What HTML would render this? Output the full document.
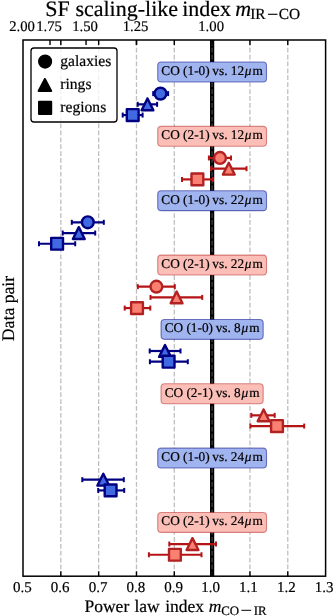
<!DOCTYPE html><html><head><meta charset="utf-8"><style>html,body{margin:0;padding:0;background:#fff;}svg{display:block;will-change:transform;}text{font-family:"Liberation Serif",serif;text-rendering:geometricPrecision;stroke:#000;stroke-width:0.2px;}</style></head><body>
<svg width="333" height="616" viewBox="0 0 333 616">
<rect x="0" y="0" width="333" height="616" fill="#fff"/>
<line x1="212.12" y1="40.0" x2="212.12" y2="576.2" stroke="#000" stroke-width="4.2"/>
<line x1="60.82" y1="576.2" x2="60.82" y2="40.0" stroke="#808080" stroke-opacity="0.5" stroke-width="1.3" stroke-dasharray="4.75 2.14"/>
<line x1="98.65" y1="576.2" x2="98.65" y2="40.0" stroke="#808080" stroke-opacity="0.5" stroke-width="1.3" stroke-dasharray="4.75 2.14"/>
<line x1="136.48" y1="576.2" x2="136.48" y2="40.0" stroke="#808080" stroke-opacity="0.5" stroke-width="1.3" stroke-dasharray="4.75 2.14"/>
<line x1="174.30" y1="576.2" x2="174.30" y2="40.0" stroke="#808080" stroke-opacity="0.5" stroke-width="1.3" stroke-dasharray="4.75 2.14"/>
<line x1="212.12" y1="576.2" x2="212.12" y2="40.0" stroke="#808080" stroke-opacity="0.5" stroke-width="1.3" stroke-dasharray="4.75 2.14"/>
<line x1="249.95" y1="576.2" x2="249.95" y2="40.0" stroke="#808080" stroke-opacity="0.5" stroke-width="1.3" stroke-dasharray="4.75 2.14"/>
<line x1="287.77" y1="576.2" x2="287.77" y2="40.0" stroke="#808080" stroke-opacity="0.5" stroke-width="1.3" stroke-dasharray="4.75 2.14"/>
<rect x="157.74" y="62.07" width="108.77" height="19.9" rx="3.5" fill="#a0b4f0" stroke="#000080" stroke-opacity="0.5" stroke-width="1.1"/>
<text x="212.12" y="74.97" font-size="13.3" text-anchor="middle">CO (1-0)<tspan dx="-0.7"> vs. 12</tspan><tspan dx="0.6" font-style="italic">μ</tspan><tspan dx="1.2">m</tspan></text>
<rect x="157.74" y="126.42" width="108.77" height="19.9" rx="3.5" fill="#fcbfb8" stroke="#b22222" stroke-opacity="0.5" stroke-width="1.1"/>
<text x="212.12" y="139.32" font-size="13.3" text-anchor="middle">CO (2-1)<tspan dx="-0.7"> vs. 12</tspan><tspan dx="0.6" font-style="italic">μ</tspan><tspan dx="1.2">m</tspan></text>
<rect x="157.74" y="190.76" width="108.77" height="19.9" rx="3.5" fill="#a0b4f0" stroke="#000080" stroke-opacity="0.5" stroke-width="1.1"/>
<text x="212.12" y="203.66" font-size="13.3" text-anchor="middle">CO (1-0)<tspan dx="-0.7"> vs. 22</tspan><tspan dx="0.6" font-style="italic">μ</tspan><tspan dx="1.2">m</tspan></text>
<rect x="157.74" y="255.10" width="108.77" height="19.9" rx="3.5" fill="#fcbfb8" stroke="#b22222" stroke-opacity="0.5" stroke-width="1.1"/>
<text x="212.12" y="268.00" font-size="13.3" text-anchor="middle">CO (2-1)<tspan dx="-0.7"> vs. 22</tspan><tspan dx="0.6" font-style="italic">μ</tspan><tspan dx="1.2">m</tspan></text>
<rect x="161.06" y="319.45" width="102.12" height="19.9" rx="3.5" fill="#a0b4f0" stroke="#000080" stroke-opacity="0.5" stroke-width="1.1"/>
<text x="212.12" y="332.35" font-size="13.3" text-anchor="middle">CO (1-0)<tspan dx="-0.7"> vs. 8</tspan><tspan dx="0.6" font-style="italic">μ</tspan><tspan dx="1.2">m</tspan></text>
<rect x="161.06" y="383.79" width="102.12" height="19.9" rx="3.5" fill="#fcbfb8" stroke="#b22222" stroke-opacity="0.5" stroke-width="1.1"/>
<text x="212.12" y="396.69" font-size="13.3" text-anchor="middle">CO (2-1)<tspan dx="-0.7"> vs. 8</tspan><tspan dx="0.6" font-style="italic">μ</tspan><tspan dx="1.2">m</tspan></text>
<rect x="157.74" y="448.14" width="108.77" height="19.9" rx="3.5" fill="#a0b4f0" stroke="#000080" stroke-opacity="0.5" stroke-width="1.1"/>
<text x="212.12" y="461.04" font-size="13.3" text-anchor="middle">CO (1-0)<tspan dx="-0.7"> vs. 24</tspan><tspan dx="0.6" font-style="italic">μ</tspan><tspan dx="1.2">m</tspan></text>
<rect x="157.74" y="512.48" width="108.77" height="19.9" rx="3.5" fill="#fcbfb8" stroke="#b22222" stroke-opacity="0.5" stroke-width="1.1"/>
<text x="212.12" y="525.38" font-size="13.3" text-anchor="middle">CO (2-1)<tspan dx="-0.7"> vs. 24</tspan><tspan dx="0.6" font-style="italic">μ</tspan><tspan dx="1.2">m</tspan></text>
<line x1="153.20" y1="93.62" x2="168.10" y2="93.62" stroke="#000080" stroke-width="2.2"/>
<line x1="153.20" y1="91.12" x2="153.20" y2="96.12" stroke="#000080" stroke-width="2"/>
<line x1="168.10" y1="91.12" x2="168.10" y2="96.12" stroke="#000080" stroke-width="2"/>
<circle cx="160.50" cy="93.62" r="5.90" fill="#4169e1" stroke="#000080" stroke-width="2.4"/>
<line x1="137.70" y1="104.34" x2="157.10" y2="104.34" stroke="#000080" stroke-width="2.2"/>
<line x1="137.70" y1="101.84" x2="137.70" y2="106.84" stroke="#000080" stroke-width="2"/>
<line x1="157.10" y1="101.84" x2="157.10" y2="106.84" stroke="#000080" stroke-width="2"/>
<path d="M147.50,98.44 L141.60,110.24 L153.40,110.24 Z" fill="#4169e1" stroke="#000080" stroke-width="2.4" stroke-linejoin="round"/>
<line x1="122.70" y1="115.07" x2="142.60" y2="115.07" stroke="#000080" stroke-width="2.2"/>
<line x1="122.70" y1="112.57" x2="122.70" y2="117.57" stroke="#000080" stroke-width="2"/>
<line x1="142.60" y1="112.57" x2="142.60" y2="117.57" stroke="#000080" stroke-width="2"/>
<rect x="126.80" y="109.17" width="11.80" height="11.80" fill="#4169e1" stroke="#000080" stroke-width="2.4" stroke-linejoin="round"/>
<line x1="208.90" y1="157.96" x2="231.00" y2="157.96" stroke="#b41414" stroke-width="2.2"/>
<line x1="208.90" y1="155.46" x2="208.90" y2="160.46" stroke="#b41414" stroke-width="2"/>
<line x1="231.00" y1="155.46" x2="231.00" y2="160.46" stroke="#b41414" stroke-width="2"/>
<circle cx="220.00" cy="157.96" r="5.90" fill="#fa8072" stroke="#b22222" stroke-width="2.4"/>
<line x1="211.00" y1="168.69" x2="246.50" y2="168.69" stroke="#b41414" stroke-width="2.2"/>
<line x1="211.00" y1="166.19" x2="211.00" y2="171.19" stroke="#b41414" stroke-width="2"/>
<line x1="246.50" y1="166.19" x2="246.50" y2="171.19" stroke="#b41414" stroke-width="2"/>
<path d="M228.80,162.79 L222.90,174.59 L234.70,174.59 Z" fill="#fa8072" stroke="#b22222" stroke-width="2.4" stroke-linejoin="round"/>
<line x1="182.00" y1="179.41" x2="212.90" y2="179.41" stroke="#b41414" stroke-width="2.2"/>
<line x1="182.00" y1="176.91" x2="182.00" y2="181.91" stroke="#b41414" stroke-width="2"/>
<line x1="212.90" y1="176.91" x2="212.90" y2="181.91" stroke="#b41414" stroke-width="2"/>
<rect x="191.50" y="173.51" width="11.80" height="11.80" fill="#fa8072" stroke="#b22222" stroke-width="2.4" stroke-linejoin="round"/>
<line x1="71.80" y1="222.31" x2="103.80" y2="222.31" stroke="#000080" stroke-width="2.2"/>
<line x1="71.80" y1="219.81" x2="71.80" y2="224.81" stroke="#000080" stroke-width="2"/>
<line x1="103.80" y1="219.81" x2="103.80" y2="224.81" stroke="#000080" stroke-width="2"/>
<circle cx="87.80" cy="222.31" r="5.90" fill="#4169e1" stroke="#000080" stroke-width="2.4"/>
<line x1="62.70" y1="233.03" x2="95.20" y2="233.03" stroke="#000080" stroke-width="2.2"/>
<line x1="62.70" y1="230.53" x2="62.70" y2="235.53" stroke="#000080" stroke-width="2"/>
<line x1="95.20" y1="230.53" x2="95.20" y2="235.53" stroke="#000080" stroke-width="2"/>
<path d="M78.80,227.13 L72.90,238.93 L84.70,238.93 Z" fill="#4169e1" stroke="#000080" stroke-width="2.4" stroke-linejoin="round"/>
<line x1="39.00" y1="243.76" x2="75.20" y2="243.76" stroke="#000080" stroke-width="2.2"/>
<line x1="39.00" y1="241.26" x2="39.00" y2="246.26" stroke="#000080" stroke-width="2"/>
<line x1="75.20" y1="241.26" x2="75.20" y2="246.26" stroke="#000080" stroke-width="2"/>
<rect x="51.20" y="237.86" width="11.80" height="11.80" fill="#4169e1" stroke="#000080" stroke-width="2.4" stroke-linejoin="round"/>
<line x1="137.80" y1="286.65" x2="174.80" y2="286.65" stroke="#b41414" stroke-width="2.2"/>
<line x1="137.80" y1="284.15" x2="137.80" y2="289.15" stroke="#b41414" stroke-width="2"/>
<line x1="174.80" y1="284.15" x2="174.80" y2="289.15" stroke="#b41414" stroke-width="2"/>
<circle cx="156.40" cy="286.65" r="5.90" fill="#fa8072" stroke="#b22222" stroke-width="2.4"/>
<line x1="150.50" y1="297.38" x2="202.20" y2="297.38" stroke="#b41414" stroke-width="2.2"/>
<line x1="150.50" y1="294.88" x2="150.50" y2="299.88" stroke="#b41414" stroke-width="2"/>
<line x1="202.20" y1="294.88" x2="202.20" y2="299.88" stroke="#b41414" stroke-width="2"/>
<path d="M176.60,291.48 L170.70,303.28 L182.50,303.28 Z" fill="#fa8072" stroke="#b22222" stroke-width="2.4" stroke-linejoin="round"/>
<line x1="124.70" y1="308.10" x2="150.30" y2="308.10" stroke="#b41414" stroke-width="2.2"/>
<line x1="124.70" y1="305.60" x2="124.70" y2="310.60" stroke="#b41414" stroke-width="2"/>
<line x1="150.30" y1="305.60" x2="150.30" y2="310.60" stroke="#b41414" stroke-width="2"/>
<rect x="131.10" y="302.20" width="11.80" height="11.80" fill="#fa8072" stroke="#b22222" stroke-width="2.4" stroke-linejoin="round"/>
<line x1="149.70" y1="351.00" x2="180.50" y2="351.00" stroke="#000080" stroke-width="2.2"/>
<line x1="149.70" y1="348.50" x2="149.70" y2="353.50" stroke="#000080" stroke-width="2"/>
<line x1="180.50" y1="348.50" x2="180.50" y2="353.50" stroke="#000080" stroke-width="2"/>
<path d="M165.00,345.10 L159.10,356.90 L170.90,356.90 Z" fill="#4169e1" stroke="#000080" stroke-width="2.4" stroke-linejoin="round"/>
<line x1="149.90" y1="361.72" x2="187.80" y2="361.72" stroke="#000080" stroke-width="2.2"/>
<line x1="149.90" y1="359.22" x2="149.90" y2="364.22" stroke="#000080" stroke-width="2"/>
<line x1="187.80" y1="359.22" x2="187.80" y2="364.22" stroke="#000080" stroke-width="2"/>
<rect x="162.70" y="355.82" width="11.80" height="11.80" fill="#4169e1" stroke="#000080" stroke-width="2.4" stroke-linejoin="round"/>
<line x1="251.30" y1="415.34" x2="274.70" y2="415.34" stroke="#b41414" stroke-width="2.2"/>
<line x1="251.30" y1="412.84" x2="251.30" y2="417.84" stroke="#b41414" stroke-width="2"/>
<line x1="274.70" y1="412.84" x2="274.70" y2="417.84" stroke="#b41414" stroke-width="2"/>
<path d="M263.60,409.44 L257.70,421.24 L269.50,421.24 Z" fill="#fa8072" stroke="#b22222" stroke-width="2.4" stroke-linejoin="round"/>
<line x1="250.40" y1="426.06" x2="304.20" y2="426.06" stroke="#b41414" stroke-width="2.2"/>
<line x1="250.40" y1="423.56" x2="250.40" y2="428.56" stroke="#b41414" stroke-width="2"/>
<line x1="304.20" y1="423.56" x2="304.20" y2="428.56" stroke="#b41414" stroke-width="2"/>
<rect x="271.10" y="420.16" width="11.80" height="11.80" fill="#fa8072" stroke="#b22222" stroke-width="2.4" stroke-linejoin="round"/>
<line x1="82.30" y1="479.68" x2="123.80" y2="479.68" stroke="#000080" stroke-width="2.2"/>
<line x1="82.30" y1="477.18" x2="82.30" y2="482.18" stroke="#000080" stroke-width="2"/>
<line x1="123.80" y1="477.18" x2="123.80" y2="482.18" stroke="#000080" stroke-width="2"/>
<path d="M103.30,473.78 L97.40,485.58 L109.20,485.58 Z" fill="#4169e1" stroke="#000080" stroke-width="2.4" stroke-linejoin="round"/>
<line x1="98.20" y1="490.41" x2="124.20" y2="490.41" stroke="#000080" stroke-width="2.2"/>
<line x1="98.20" y1="487.91" x2="98.20" y2="492.91" stroke="#000080" stroke-width="2"/>
<line x1="124.20" y1="487.91" x2="124.20" y2="492.91" stroke="#000080" stroke-width="2"/>
<rect x="104.70" y="484.51" width="11.80" height="11.80" fill="#4169e1" stroke="#000080" stroke-width="2.4" stroke-linejoin="round"/>
<line x1="169.30" y1="544.03" x2="216.00" y2="544.03" stroke="#b41414" stroke-width="2.2"/>
<line x1="169.30" y1="541.53" x2="169.30" y2="546.53" stroke="#b41414" stroke-width="2"/>
<line x1="216.00" y1="541.53" x2="216.00" y2="546.53" stroke="#b41414" stroke-width="2"/>
<path d="M192.50,538.13 L186.60,549.93 L198.40,549.93 Z" fill="#fa8072" stroke="#b22222" stroke-width="2.4" stroke-linejoin="round"/>
<line x1="148.90" y1="554.75" x2="201.50" y2="554.75" stroke="#b41414" stroke-width="2.2"/>
<line x1="148.90" y1="552.25" x2="148.90" y2="557.25" stroke="#b41414" stroke-width="2"/>
<line x1="201.50" y1="552.25" x2="201.50" y2="557.25" stroke="#b41414" stroke-width="2"/>
<rect x="169.00" y="548.85" width="11.80" height="11.80" fill="#fa8072" stroke="#b22222" stroke-width="2.4" stroke-linejoin="round"/>
<rect x="31" y="48" width="86" height="74" rx="3" fill="#fff" fill-opacity="0.8" stroke="#000" stroke-width="1.3"/>
<circle cx="45.1" cy="61.6" r="6.1" fill="#000" stroke="#000" stroke-width="2"/>
<path d="M44.9,79 L38.6,91 L51.2,91 Z" fill="#000" stroke="#000" stroke-width="2" stroke-linejoin="round"/>
<rect x="39" y="101.8" width="12.2" height="12.2" fill="#000" stroke="#000" stroke-width="2" stroke-linejoin="round"/>
<text x="60.2" y="66.2" font-size="15.6">galaxies</text>
<text x="60.3" y="89.1" font-size="15.6">rings</text>
<text x="60.3" y="112.0" font-size="15.6">regions</text>
<line x1="60.82" y1="40.0" x2="60.82" y2="44.9" stroke="#000" stroke-width="1.4"/>
<line x1="60.82" y1="576.2" x2="60.82" y2="571.3000000000001" stroke="#000" stroke-width="1.4"/>
<line x1="98.65" y1="40.0" x2="98.65" y2="44.9" stroke="#000" stroke-width="1.4"/>
<line x1="98.65" y1="576.2" x2="98.65" y2="571.3000000000001" stroke="#000" stroke-width="1.4"/>
<line x1="136.48" y1="40.0" x2="136.48" y2="44.9" stroke="#000" stroke-width="1.4"/>
<line x1="136.48" y1="576.2" x2="136.48" y2="571.3000000000001" stroke="#000" stroke-width="1.4"/>
<line x1="174.30" y1="40.0" x2="174.30" y2="44.9" stroke="#000" stroke-width="1.4"/>
<line x1="174.30" y1="576.2" x2="174.30" y2="571.3000000000001" stroke="#000" stroke-width="1.4"/>
<line x1="212.12" y1="40.0" x2="212.12" y2="44.9" stroke="#000" stroke-width="1.4"/>
<line x1="212.12" y1="576.2" x2="212.12" y2="571.3000000000001" stroke="#000" stroke-width="1.4"/>
<line x1="249.95" y1="40.0" x2="249.95" y2="44.9" stroke="#000" stroke-width="1.4"/>
<line x1="249.95" y1="576.2" x2="249.95" y2="571.3000000000001" stroke="#000" stroke-width="1.4"/>
<line x1="287.77" y1="40.0" x2="287.77" y2="44.9" stroke="#000" stroke-width="1.4"/>
<line x1="287.77" y1="576.2" x2="287.77" y2="571.3000000000001" stroke="#000" stroke-width="1.4"/>
<line x1="50.02" y1="40.0" x2="50.02" y2="44.9" stroke="#000" stroke-width="1.4"/>
<line x1="86.04" y1="40.0" x2="86.04" y2="44.9" stroke="#000" stroke-width="1.4"/>
<line x1="136.48" y1="40.0" x2="136.48" y2="44.9" stroke="#000" stroke-width="1.4"/>
<rect x="23.0" y="40.0" width="302.60" height="536.20" fill="none" stroke="#000" stroke-width="1.5"/>
<text x="22.40" y="591.9" font-size="15" text-anchor="middle">0.5</text>
<text x="60.22" y="591.9" font-size="15" text-anchor="middle">0.6</text>
<text x="98.05" y="591.9" font-size="15" text-anchor="middle">0.7</text>
<text x="135.88" y="591.9" font-size="15" text-anchor="middle">0.8</text>
<text x="173.70" y="591.9" font-size="15" text-anchor="middle">0.9</text>
<text x="210.62" y="591.9" font-size="15" text-anchor="middle">1.0</text>
<text x="248.45" y="591.9" font-size="15" text-anchor="middle">1.1</text>
<text x="286.27" y="591.9" font-size="15" text-anchor="middle">1.2</text>
<text x="324.10" y="591.9" font-size="15" text-anchor="middle">1.3</text>
<text x="22.00" y="31.1" font-size="14.7" text-anchor="middle">2.00</text>
<text x="49.02" y="31.1" font-size="14.7" text-anchor="middle">1.75</text>
<text x="85.04" y="31.1" font-size="14.7" text-anchor="middle">1.50</text>
<text x="135.48" y="31.1" font-size="14.7" text-anchor="middle">1.25</text>
<text x="211.12" y="31.1" font-size="14.7" text-anchor="middle">1.00</text>
<text x="45.2" y="15.5" font-size="22">SF</text>
<text x="75.4" y="15.5" font-size="22">scaling-like</text>
<text x="182.2" y="15.5" font-size="22">index</text>
<text x="235.2" y="15.5" font-size="22" font-style="italic">m</text>
<text x="250.2" y="18.9" font-size="15.4">IR</text>
<line x1="268.0" y1="14.3" x2="277.5" y2="14.3" stroke="#000" stroke-width="1.1"/>
<text x="278.8" y="18.9" font-size="15.4">CO</text>
<text x="84.50" y="611.6" font-size="17.5">Power</text>
<text x="134.45" y="611.6" font-size="17.5">law</text>
<text x="165.23" y="611.6" font-size="17.5">index</text>
<text x="208.87" y="611.6" font-size="17.5" font-style="italic">m</text>
<text x="221.27" y="614.8000000000001" font-size="12.9">CO</text>
<line x1="241.4" y1="610.3" x2="251.2" y2="610.3" stroke="#000" stroke-width="1.0"/>
<text x="253.73" y="614.8000000000001" font-size="12.9">IR</text>
<text x="0" y="0" font-size="17.7" text-anchor="middle" transform="translate(14.0,308.5) rotate(-90)">Data pair</text>
</svg>
</body></html>
